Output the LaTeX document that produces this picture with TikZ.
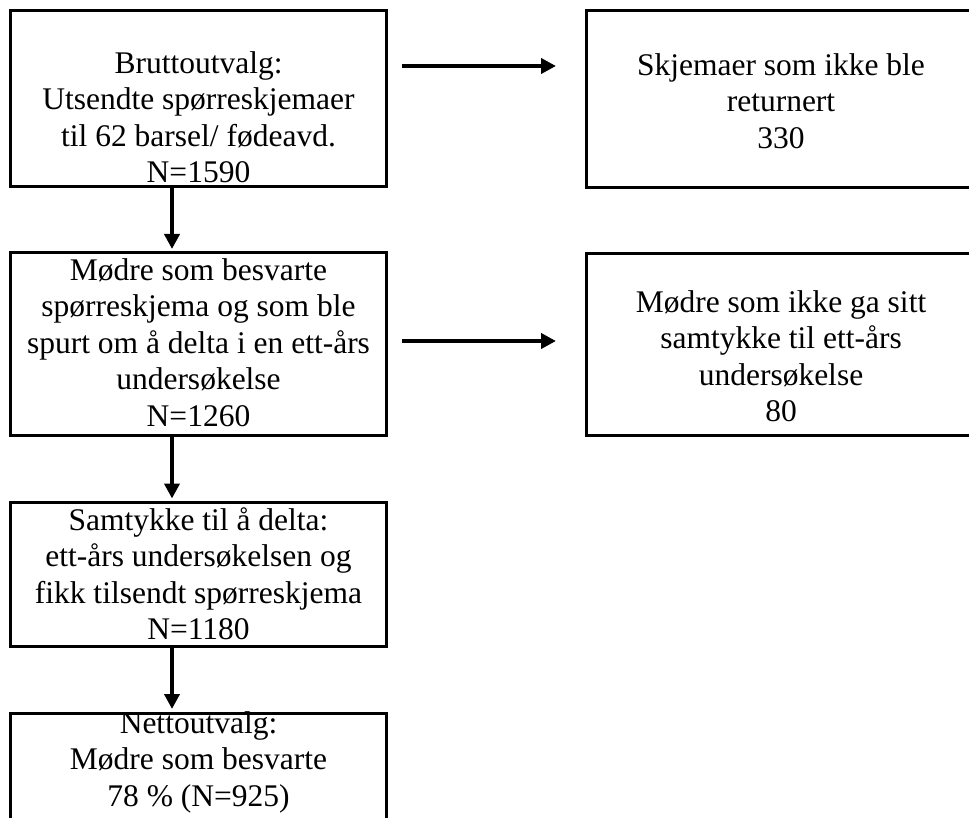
\documentclass[tikz,border=0pt]{standalone}
\usepackage{fontspec}
\setmainfont{Liberation Serif}
\usetikzlibrary{arrows.meta}
\tikzset{
  box/.style={draw=black, line width=3pt, rectangle, inner sep=0pt},
  txt/.style={anchor=north, inner sep=0pt, align=center,
    font=\fontsize{31.5}{36.5}\selectfont},
  arr/.style={line width=4pt, -{Triangle[length=15pt,width=15pt]}}
}
\newcommand{\fl}{\rule{0pt}{25pt}}
\begin{document}
\begin{tikzpicture}[x=1pt,y=-1pt]
\useasboundingbox (0,0) rectangle (969,818);
\clip (0,0) rectangle (969,818);
% boxes
\node[box, minimum width=376pt, minimum height=176pt] (b1) at (198.5,98.5) {};
\node[box, minimum width=389pt, minimum height=177pt] (r1) at (781,99) {};
\node[box, minimum width=376pt, minimum height=183pt] (b2) at (198.5,344) {};
\node[box, minimum width=389pt, minimum height=182pt] (r2) at (781,344.5) {};
\node[box, minimum width=376pt, minimum height=144pt] (b3) at (198.5,574) {};
\node[box, minimum width=376pt, minimum height=150pt] (b4) at (198.5,788.5) {};
% texts
\node[txt] (t1) at (198.5,48) {\fl Bruttoutvalg:\\Utsendte spørreskjemaer\\til 62 barsel/ fødeavd.\\N=1590};
\node[txt] (tr1) at (781,50) {\fl Skjemaer som ikke ble\\returnert\\330};
\node[txt] (t2) at (198.5,255) {\fl Mødre som besvarte\\spørreskjema og som ble\\spurt om å delta i en ett-års\\undersøkelse\\N=1260};
\node[txt] (tr2) at (781,287) {\fl Mødre som ikke ga sitt\\samtykke til ett-års\\undersøkelse\\80};
\node[txt] (t3) at (198.5,505) {\fl Samtykke til å delta:\\ett-års undersøkelsen og\\fikk tilsendt spørreskjema\\N=1180};
\node[txt] (t4) at (198.5,708) {\fl Nettoutvalg:\\Mødre som besvarte\\78 \% (N=925)};
% arrow guide coordinates
\coordinate (vx) at (172,0);
\coordinate (h1) at (0,66);
\coordinate (h2) at (0,341);
% vertical arrows
\draw[arr, shorten >=2pt] (b1.south -| vx) -- (b2.north -| vx);
\draw[arr, shorten >=2pt] (b2.south -| vx) -- (b3.north -| vx);
\draw[arr, shorten >=3pt] (b3.south -| vx) -- (b4.north -| vx);
% horizontal arrows
\draw[arr, shorten <=14pt, shorten >=29pt] (b1.east |- h1) -- (r1.west |- h1);
\draw[arr, shorten <=14pt, shorten >=29pt] (b2.east |- h2) -- (r2.west |- h2);
\end{tikzpicture}
\end{document}
